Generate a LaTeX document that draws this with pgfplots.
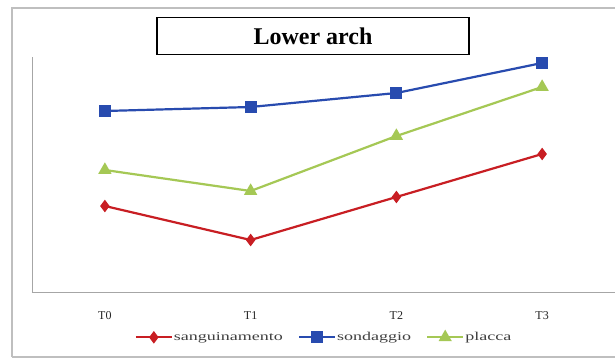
\documentclass[border=0pt]{standalone}
\usepackage{pgfplots}
\pgfplotsset{compat=1.18}
\usepackage{fontspec}
\setmainfont{Liberation Serif}
\definecolor{cred}{RGB}{200,30,35}
\definecolor{cblue}{RGB}{40,75,175}
\definecolor{cgreen}{RGB}{165,200,85}
\newcommand{\wide}[1]{\scalebox{1.5}[1]{#1}}
\begin{document}
\begin{tikzpicture}[x=1pt,y=1pt]
\useasboundingbox (0,0) rectangle (615,362);
\fill[white] (0,0) rectangle (615,362);
\draw[black!25, line width=1.2pt] (12,5) -- (12,354) -- (620,354);
\draw[black!25, line width=1.2pt] (12,5) -- (620,5);
\begin{axis}[
  at={(32pt,70pt)}, anchor=south west,
  scale only axis, width=583pt, height=235pt,
  xmin=-0.5, xmax=3.5, ymin=0, ymax=235,
  axis x line=bottom, axis y line=left,
  axis line style={-, black!35, line width=0.8pt},
  ytick=\empty,
  xtick={0,1,2,3}, xticklabels={T0,T1,T2,T3},
  major tick length=0pt,
  xticklabel style={font=\fontsize{12}{14}\selectfont, text=black!85, yshift=-16pt},
  legend style={at={(0.5,-0.193)}, anchor=center, draw=none, fill=none,
    legend columns=3, font=\fontsize{12}{14}\selectfont, text=black!75,
    nodes={inner xsep=1pt},
    /tikz/every even column/.append style={column sep=14pt}},
  legend image code/.code={\draw[#1] (0pt,0pt) -- (36pt,0pt); \draw[#1, only marks] plot coordinates {(18pt,0pt)};},
  legend cell align=left,
  clip=false,
]
\addplot[cred, line width=2.2pt, mark=diamond*, mark size=4.5pt, mark options={solid}]
  coordinates {(0,86) (1,52) (2,95) (3,138)};
\addlegendentry{\wide{sanguinamento}}
\addplot[cblue, line width=2.2pt, mark=square*, mark size=5pt]
  coordinates {(0,181) (1,185) (2,199) (3,229)};
\addlegendentry{\wide{sondaggio}}
\addplot[cgreen, line width=2.2pt, mark=triangle*, mark size=5.5pt]
  coordinates {(0,122) (1,101) (2,156) (3,205)};
\addlegendentry{\wide{placca}}
\end{axis}
\node[draw=black, line width=1.2pt, minimum width=312pt, minimum height=37pt, font=\fontsize{24}{28}\selectfont\bfseries, fill=white] at (313,326) {Lower arch};
\end{tikzpicture}
\end{document}
